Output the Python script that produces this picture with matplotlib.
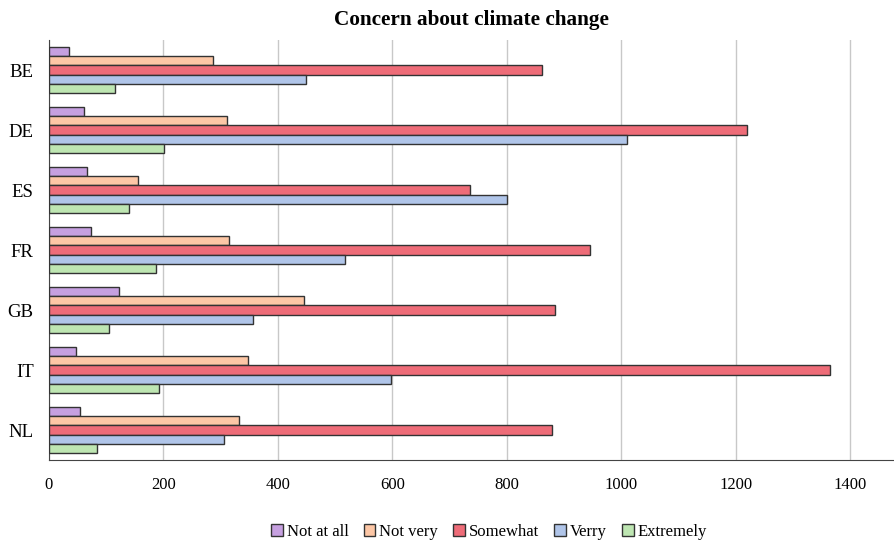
import numpy as np
import matplotlib
matplotlib.use("Agg")
import matplotlib.pyplot as plt

plt.rcParams["font.family"] = ["Liberation Serif", "DejaVu Serif"]

countries = ["BE", "DE", "ES", "FR", "GB", "IT", "NL"]
levels = ["Not at all", "Not very", "Somewhat", "Verry", "Extremely"]
not_at_all = [35, 61, 66, 74, 123, 47, 55]
not_very = [286, 311, 155, 314, 445, 348, 332]
somewhat = [861, 1220, 735, 946, 885, 1365, 879]
very = [449, 1011, 801, 518, 357, 598, 306]
extremely = [115, 201, 140, 187, 104, 193, 84]
colors = ["#C6A0E0", "#FDC7A6", "#EE6C78", "#B0C5E9", "#BEE6B2"]
xticks = [0, 200, 400, 600, 800, 1000, 1200, 1400]

series = [not_at_all, not_very, somewhat, very, extremely]

fig = plt.figure(figsize=(8.95, 5.44), dpi=100)
ax = fig.add_axes([49 / 895, 1 - 460 / 544, (893 - 49) / 895, 420 / 544])

n = len(countries)
bar_h = 0.153
offsets = (np.arange(len(levels)) - 2) * bar_h
ypos = np.arange(n)
for vals, off, col, lab in zip(series, offsets, colors, levels):
    ax.barh(ypos + off, vals, height=bar_h, color=col, edgecolor="#333333",
            linewidth=1.0, label=lab, zorder=3)

ax.set_ylim(n - 0.5, -0.5)
ax.set_xlim(0, 1475)
ax.set_xticks(xticks)
ax.set_xticklabels([str(v) for v in xticks], fontsize=12)
ax.set_yticks(ypos)
ax.set_yticklabels(countries, fontsize=13.5)
ax.tick_params(axis="both", length=0)
ax.tick_params(axis="x", pad=12)
ax.tick_params(axis="y", pad=11)
ax.grid(axis="x", color="#C8C8C8", linewidth=1.0, zorder=0)
for s in ["top", "right"]:
    ax.spines[s].set_visible(False)
ax.spines["left"].set_color("#444444")
ax.spines["bottom"].set_color("#444444")

ax.set_title("Concern about climate change", fontsize=15.3, fontweight="bold", pad=11)

fig.legend(loc="center", bbox_to_anchor=(489 / 895, 1 - 532 / 544), ncol=5, frameon=False,
           fontsize=12, handlelength=0.7, handleheight=0.7, handletextpad=0.25,
           columnspacing=0.9)

fig.savefig("out.png", dpi=100)
